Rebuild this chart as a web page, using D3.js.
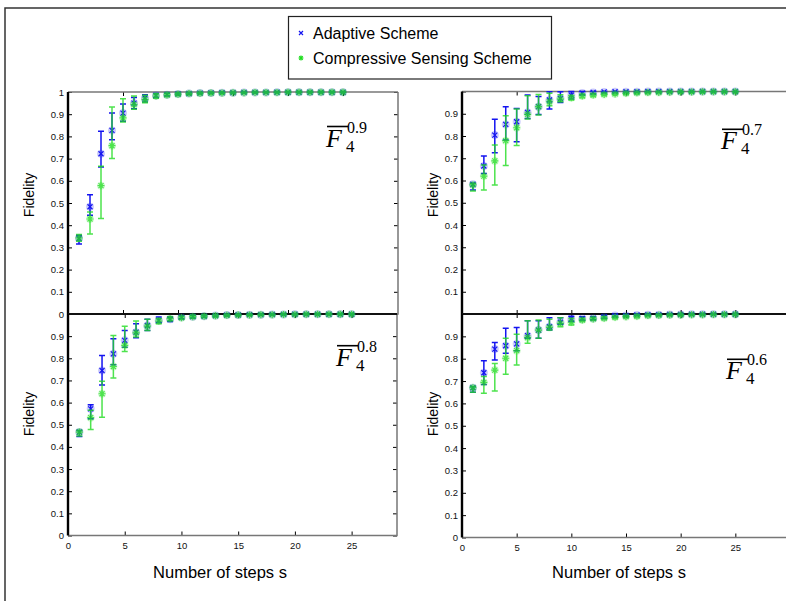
<!DOCTYPE html>
<html>
<head>
<meta charset="utf-8">
<script src="https://cdn.jsdelivr.net/npm/d3@7"></script>
<style>
  body { margin: 0; background: #fff; }
  svg { display: block; font-family: "Liberation Sans", Arial, sans-serif; }
</style>
</head>
<body>
<svg id="chart" width="786" height="601"></svg>
<script>
// Number of steps s (x values, same for every panel)
const steps = [1, 2, 3, 4, 5, 6, 7, 8, 9, 10, 11, 12, 13, 14, 15, 16, 17, 18, 19, 20, 21, 22, 23, 24, 25];
const xTicks = [0, 5, 10, 15, 20, 25];
const yTicks = [0, 0.1, 0.2, 0.3, 0.4, 0.5, 0.6, 0.7, 0.8, 0.9, 1];
const seriesNames = ["Adaptive Scheme", "Compressive Sensing Scheme"];

// F_4^0.9 (top left)
const adaptMean09 = [0.340, 0.483, 0.722, 0.827, 0.905, 0.950, 0.973, 0.984, 0.988, 0.991, 0.993, 0.995, 0.996, 0.997, 0.997, 0.998, 0.998, 0.998, 0.999, 0.999, 0.999, 0.999, 0.999, 0.999, 0.999];
const adaptLo09   = [0.315, 0.445, 0.662, 0.785, 0.868, 0.925, 0.955, 0.975, 0.982, 0.986, 0.989, 0.992, 0.994, 0.995, 0.995, 0.996, 0.996, 0.997, 0.998, 0.998, 0.998, 0.998, 0.998, 0.998, 0.998];
const adaptHi09   = [0.355, 0.537, 0.823, 0.905, 0.946, 0.975, 0.988, 0.993, 0.994, 0.996, 0.997, 0.998, 0.998, 0.999, 0.999, 1, 1, 1, 1, 1, 1, 1, 1, 1, 1];
const csMean09 = [0.343, 0.428, 0.578, 0.758, 0.883, 0.943, 0.966, 0.982, 0.987, 0.990, 0.993, 0.994, 0.995, 0.996, 0.997, 0.997, 0.998, 0.998, 0.998, 0.999, 0.999, 0.999, 0.999, 0.999, 0.999];
const csLo09   = [0.328, 0.360, 0.430, 0.700, 0.865, 0.922, 0.952, 0.972, 0.980, 0.985, 0.989, 0.991, 0.992, 0.994, 0.995, 0.995, 0.996, 0.997, 0.997, 0.998, 0.998, 0.998, 0.998, 0.998, 0.998];
const csHi09   = [0.358, 0.460, 0.665, 0.932, 0.970, 0.982, 0.985, 0.992, 0.994, 0.995, 0.996, 0.997, 0.998, 0.998, 0.999, 0.999, 1, 1, 1, 1, 1, 1, 1, 1, 1];

// F_4^0.7 (top right)
const adaptMean07 = [0.583, 0.665, 0.804, 0.852, 0.864, 0.906, 0.932, 0.962, 0.969, 0.984, 0.993, 0.996, 0.998, 0.999, 0.999, 0.999, 1, 1, 1, 1, 1, 1, 1, 1, 1];
const adaptLo07   = [0.557, 0.632, 0.725, 0.782, 0.774, 0.879, 0.897, 0.921, 0.951, 0.966, 0.985, 0.990, 0.994, 0.996, 0.997, 0.997, 0.998, 0.998, 0.999, 0.999, 0.999, 0.999, 0.999, 0.999, 0.999];
const adaptHi07   = [0.588, 0.710, 0.875, 0.932, 0.924, 0.984, 0.977, 0.999, 0.999, 1, 1, 1, 1, 1, 1, 1, 1, 1, 1, 1, 1, 1, 1, 1, 1];
const csMean07 = [0.580, 0.620, 0.688, 0.779, 0.837, 0.897, 0.932, 0.954, 0.966, 0.972, 0.980, 0.984, 0.987, 0.989, 0.992, 0.994, 0.995, 0.996, 0.997, 0.998, 0.998, 0.999, 0.999, 0.999, 0.999];
const csLo07   = [0.553, 0.557, 0.580, 0.667, 0.757, 0.876, 0.894, 0.936, 0.954, 0.962, 0.972, 0.978, 0.982, 0.985, 0.988, 0.990, 0.992, 0.993, 0.995, 0.996, 0.996, 0.997, 0.998, 0.998, 0.998];
const csHi07   = [0.587, 0.670, 0.760, 0.891, 0.921, 0.981, 0.987, 0.992, 0.985, 0.982, 0.988, 0.990, 0.992, 0.993, 0.996, 0.997, 0.998, 0.999, 0.999, 1, 1, 1, 1, 1, 1];

// F_4^0.8 (bottom left)
const adaptMean08 = [0.467, 0.572, 0.745, 0.820, 0.881, 0.918, 0.948, 0.971, 0.976, 0.985, 0.988, 0.990, 0.993, 0.995, 0.996, 0.997, 0.997, 0.998, 0.998, 0.999, 0.999, 0.999, 0.999, 0.999, 0.999];
const adaptLo08   = [0.447, 0.527, 0.680, 0.771, 0.850, 0.893, 0.926, 0.960, 0.966, 0.978, 0.982, 0.985, 0.989, 0.991, 0.993, 0.994, 0.995, 0.996, 0.996, 0.997, 0.997, 0.998, 0.998, 0.998, 0.998];
const adaptHi08   = [0.474, 0.590, 0.813, 0.888, 0.926, 0.956, 0.976, 0.986, 0.986, 0.992, 0.994, 0.995, 0.997, 0.998, 0.999, 0.999, 0.999, 1, 1, 1, 1, 1, 1, 1, 1];
const csMean08 = [0.467, 0.532, 0.640, 0.763, 0.858, 0.915, 0.945, 0.968, 0.979, 0.983, 0.988, 0.990, 0.992, 0.994, 0.995, 0.996, 0.997, 0.997, 0.998, 0.998, 0.999, 0.999, 0.999, 0.999, 0.999];
const csLo08   = [0.449, 0.479, 0.534, 0.711, 0.831, 0.896, 0.926, 0.956, 0.970, 0.976, 0.982, 0.985, 0.988, 0.990, 0.992, 0.993, 0.994, 0.995, 0.996, 0.996, 0.997, 0.997, 0.998, 0.998, 0.998];
const csHi08   = [0.474, 0.565, 0.696, 0.903, 0.945, 0.968, 0.976, 0.980, 0.988, 0.990, 0.994, 0.995, 0.996, 0.997, 0.998, 0.998, 0.999, 0.999, 1, 1, 1, 1, 1, 1, 1];

// F_4^0.6 (bottom right)
const adaptMean06 = [0.670, 0.737, 0.843, 0.858, 0.866, 0.903, 0.928, 0.943, 0.963, 0.978, 0.980, 0.981, 0.987, 0.993, 0.993, 0.996, 0.997, 0.997, 0.998, 0.998, 0.999, 0.999, 0.999, 0.999, 0.999];
const adaptLo06   = [0.650, 0.685, 0.794, 0.824, 0.836, 0.891, 0.891, 0.928, 0.954, 0.966, 0.972, 0.974, 0.981, 0.988, 0.989, 0.993, 0.994, 0.995, 0.996, 0.996, 0.997, 0.997, 0.998, 0.998, 0.998];
const adaptHi06   = [0.675, 0.791, 0.873, 0.936, 0.940, 0.970, 0.970, 0.983, 0.983, 0.990, 0.988, 0.988, 0.993, 0.998, 0.997, 0.999, 1, 1, 1, 1, 1, 1, 1, 1, 1];
const csMean06 = [0.670, 0.694, 0.749, 0.802, 0.836, 0.894, 0.928, 0.940, 0.958, 0.963, 0.973, 0.978, 0.981, 0.985, 0.988, 0.990, 0.993, 0.994, 0.995, 0.996, 0.997, 0.997, 0.998, 0.998, 0.998];
const csLo06   = [0.650, 0.645, 0.655, 0.730, 0.772, 0.869, 0.891, 0.928, 0.943, 0.951, 0.966, 0.972, 0.976, 0.980, 0.984, 0.986, 0.990, 0.991, 0.992, 0.993, 0.994, 0.995, 0.996, 0.996, 0.996];
const csHi06   = [0.675, 0.720, 0.779, 0.891, 0.909, 0.970, 0.973, 0.976, 0.983, 0.981, 0.980, 0.984, 0.986, 0.990, 0.992, 0.994, 0.996, 0.997, 0.998, 0.998, 0.999, 0.999, 0.999, 0.999, 0.999];

const blue = "#1414f0";
const green = "#22dd22";

const svg = d3.select("#chart");

// outer frame
svg.append("path")
    .attr("d", "M5,601V8H786")
    .attr("fill", "none")
    .attr("stroke", "#333")
    .attr("stroke-width", 1.5);

// panel layout; top row first so the bottom row covers its x labels
const panels = [
    { sup: "0.9", left: 68, right: 398, top: 92, bottom: 314, xMax: 30, ann: [327, 126.5],
      yLabels: [0, 0.1, 0.2, 0.3, 0.4, 0.5, 0.6, 0.7, 0.8, 0.9, 1], xLabels: false,
      adapt: [adaptMean09, adaptLo09, adaptHi09], cs: [csMean09, csLo09, csHi09] },
    { sup: "0.7", left: 462, right: 790, top: 91.5, bottom: 314, xMax: 30, ann: [722, 129.3],
      yLabels: [0.1, 0.2, 0.3, 0.4, 0.5, 0.6, 0.7, 0.8, 0.9], xLabels: false,
      adapt: [adaptMean07, adaptLo07, adaptHi07], cs: [csMean07, csLo07, csHi07] },
    { sup: "0.8", left: 68, right: 397, top: 314, bottom: 535.5, xMax: 29, ann: [337, 345.7],
      yLabels: [0, 0.1, 0.2, 0.3, 0.4, 0.5, 0.6, 0.7, 0.8, 0.9], xLabels: true,
      adapt: [adaptMean08, adaptLo08, adaptHi08], cs: [csMean08, csLo08, csHi08] },
    { sup: "0.6", left: 462, right: 790, top: 314, bottom: 537.5, xMax: 30, ann: [727, 359.3],
      yLabels: [0, 0.1, 0.2, 0.3, 0.4, 0.5, 0.6, 0.7, 0.8, 0.9], xLabels: true,
      adapt: [adaptMean06, adaptLo06, adaptHi06], cs: [csMean06, csLo06, csHi06] }
];

const fmtY = d => (d === 0 || d === 1) ? String(d) : d3.format(".1f")(d);

const xMark = "M-2.5,-2.5L2.5,2.5M-2.5,2.5L2.5,-2.5";
const starMark = "M0,-3.5V3.5M-3.5,0H3.5M-2.5,-2.5L2.5,2.5M-2.5,2.5L2.5,-2.5";

function styleAxis(ax) {
    ax.select(".domain").remove();
    ax.selectAll("line").attr("stroke", "#000");
    ax.selectAll("text")
        .attr("font-family", "Liberation Sans, Arial, sans-serif")
        .attr("font-size", 9.5)
        .attr("fill", "#111");
}

function drawSeries(g, x, y, data, color, mark, opacity) {
    const [mean, lo, hi] = data;
    const sg = g.append("g").attr("opacity", opacity);
    const pts = steps.map((s, i) => ({ s, m: mean[i], lo: lo[i], hi: hi[i] }));

    sg.selectAll(".halo")
        .data(pts)
        .enter()
        .append("circle")
        .attr("cx", d => x(d.s))
        .attr("cy", d => y(d.m))
        .attr("r", 4)
        .attr("fill", color)
        .attr("opacity", 0.22);

    sg.selectAll(".bar")
        .data(pts)
        .enter()
        .append("path")
        .attr("d", d => {
            const cx = x(d.s), y1 = y(d.lo), y2 = y(d.hi);
            return `M${cx},${y1}V${y2}M${cx - 3},${y1}H${cx + 3}M${cx - 3},${y2}H${cx + 3}`;
        })
        .attr("fill", "none")
        .attr("stroke", color)
        .attr("stroke-width", 1.5);

    sg.selectAll(".mark")
        .data(pts)
        .enter()
        .append("path")
        .attr("transform", d => `translate(${x(d.s)},${y(d.m)})`)
        .attr("d", mark)
        .attr("fill", "none")
        .attr("stroke", color)
        .attr("stroke-width", 1.2);
}

function drawAnnotation(g, p) {
    const [ox, oy] = p.ann;
    g.append("line")
        .attr("x1", ox).attr("x2", ox + 21)
        .attr("y1", oy).attr("y2", oy)
        .attr("stroke", "#000")
        .attr("stroke-width", 1.6);
    g.append("text")
        .attr("x", ox - 1).attr("y", oy + 20)
        .attr("font-family", "Liberation Serif, serif")
        .attr("font-style", "italic")
        .attr("font-size", 26)
        .text("F");
    g.append("text")
        .attr("x", ox + 20).attr("y", oy + 6)
        .attr("font-family", "Liberation Serif, serif")
        .attr("font-size", 16)
        .text(p.sup);
    g.append("text")
        .attr("x", ox + 19).attr("y", oy + 25)
        .attr("font-family", "Liberation Serif, serif")
        .attr("font-size", 17)
        .text("4");
}

panels.forEach(p => {
    const x = d3.scaleLinear().domain([0, p.xMax]).range([p.left, p.right]);
    const y = d3.scaleLinear().domain([0, 1]).range([p.bottom, p.top]);
    const g = svg.append("g");

    g.append("rect")
        .attr("x", p.left).attr("y", p.top)
        .attr("width", p.right - p.left).attr("height", p.bottom - p.top)
        .attr("fill", "#fff");

    // inward ticks on all four sides
    const yl = g.append("g").attr("transform", `translate(${p.left},0)`)
        .call(d3.axisLeft(y).tickValues(yTicks).tickSize(-4).tickPadding(4)
            .tickFormat(d => p.yLabels.includes(d) ? fmtY(d) : ""));
    styleAxis(yl);
    const yr = g.append("g").attr("transform", `translate(${p.right},0)`)
        .call(d3.axisRight(y).tickValues(yTicks).tickSize(-4).tickFormat(""));
    styleAxis(yr);
    const xb = g.append("g").attr("transform", `translate(0,${p.bottom})`)
        .call(d3.axisBottom(x).tickValues(xTicks).tickSize(-4).tickPadding(7)
            .tickFormat(d => p.xLabels ? d : ""));
    styleAxis(xb);
    const xt = g.append("g").attr("transform", `translate(0,${p.top})`)
        .call(d3.axisTop(x).tickValues(xTicks).tickSize(-4).tickFormat(""));
    styleAxis(xt);

    // box: dark left/top-junction lines, grey elsewhere
    g.append("path")
        .attr("d", `M${p.left},${p.bottom}H${p.right}V${p.top}`)
        .attr("fill", "none")
        .attr("stroke", "#777")
        .attr("stroke-width", 1.5);
    g.append("line")
        .attr("x1", p.left).attr("x2", p.right)
        .attr("y1", p.top).attr("y2", p.top)
        .attr("stroke", p.top === 314 ? "#111" : "#777")
        .attr("stroke-width", p.top === 314 ? 2.2 : 1.5);
    g.append("line")
        .attr("x1", p.left).attr("x2", p.left)
        .attr("y1", p.top).attr("y2", p.bottom)
        .attr("stroke", "#000")
        .attr("stroke-width", 2.4);

    drawSeries(g, x, y, p.adapt, blue, xMark, 1);
    drawSeries(g, x, y, p.cs, green, starMark, 0.8);

    drawAnnotation(g, p);

    // axis titles
    g.append("text")
        .attr("transform", `translate(${p.left < 100 ? 34 : 438},${p.top < 200 ? 195 : 414}) rotate(-90)`)
        .attr("text-anchor", "middle")
        .attr("font-size", 14)
        .text("Fidelity");
    if (p.xLabels) {
        g.append("text")
            .attr("x", p.left < 100 ? 220 : 619)
            .attr("y", 578)
            .attr("text-anchor", "middle")
            .attr("font-size", 16.5)
            .text("Number of steps s");
    }
});

// legend
const legend = svg.append("g");
legend.append("rect")
    .attr("x", 288.5).attr("y", 16.5)
    .attr("width", 263).attr("height", 62.5)
    .attr("fill", "#fff")
    .attr("stroke", "#222")
    .attr("stroke-width", 1.2);
const legendMarks = [
    { color: blue, mark: "M-2,-2L2,2M-2,2L2,-2", yy: 33 },
    { color: green, mark: "M0,-2.5V2.5M-2.5,0H2.5M-1.8,-1.8L1.8,1.8M-1.8,1.8L1.8,-1.8", yy: 58 }
];
seriesNames.forEach((name, i) => {
    const lm = legendMarks[i];
    legend.append("path")
        .attr("transform", `translate(301,${lm.yy})`)
        .attr("d", lm.mark)
        .attr("fill", "none")
        .attr("stroke", lm.color)
        .attr("stroke-width", 1.2);
    legend.append("text")
        .attr("x", 313).attr("y", lm.yy + 6)
        .attr("font-size", 16)
        .text(name);
});
</script>
</body>
</html>
